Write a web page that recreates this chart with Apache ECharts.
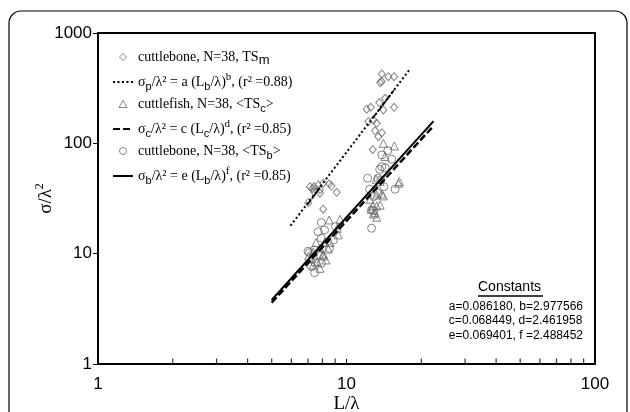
<!DOCTYPE html>
<html>
<head>
<meta charset="utf-8">
<script src="https://cdn.jsdelivr.net/npm/echarts@6/dist/echarts.min.js"></script>
<style>
  html, body { margin: 0; padding: 0; background: #fff; }
  #chart { width: 630px; height: 412px; }
</style>
</head>
<body>
<div id="chart"></div>
<script>
// cuttlebone TSm (diamonds)
const tsmPoints = [
  [13.87, 426], [14.74, 402], [15.54, 402], [13.65, 355], [13.87, 363],
  [14.30, 256], [13.56, 234], [15.54, 212], [12.52, 212], [12.06, 204],
  [14.07, 201], [12.82, 163], [12.24, 157], [13.23, 152], [13.02, 130],
  [13.87, 125], [13.43, 115], [12.75, 88],
  [7.13, 40.5], [7.30, 39], [7.40, 40.5], [7.70, 42], [7.82, 38],
  [8.06, 43.5], [8.52, 43], [8.71, 41], [9.13, 36], [7.40, 36.5],
  [7.82, 35.3], [8.06, 25.3], [7.02, 29]
];
// cuttlefish <TSc> (triangles)
const tscPoints = [
  [8.52, 20.2], [9.41, 20.5], [9.18, 17.0], [9.27, 14.8], [7.54, 12.6],
  [8.19, 12.8], [8.58, 12.6], [7.82, 11.2], [7.35, 10.4], [8.45, 11.0],
  [8.06, 9.53], [8.27, 8.77], [7.24, 9.08], [7.63, 8.46], [7.35, 7.9],
  [7.82, 7.37], [8.06, 9.9], [7.04, 9.5],
  [14.07, 100], [15.58, 94.7], [14.30, 76], [16.17, 43.5], [16.32, 45],
  [13.15, 47.3], [13.65, 45], [13.87, 34.8], [13.23, 34.1], [14.07, 33.4],
  [12.44, 31.1], [12.75, 27.1], [13.23, 27.1], [13.02, 23.5], [12.55, 25.3],
  [12.82, 22.9], [13.23, 21.4], [13.65, 27.6]
];
// cuttlebone <TSb> (circles)
const tsbPoints = [
  [13.87, 78.5], [14.66, 85.9], [15.21, 71.8], [13.87, 61.5], [13.36, 48.3],
  [12.16, 48.3], [13.76, 46.6], [12.39, 38.4], [14.12, 40.5], [12.86, 32.9],
  [13.36, 35.3], [12.62, 24.9], [12.86, 24.5], [15.69, 38.4], [12.62, 17.0],
  [14.30, 60], [13.60, 58],
  [7.92, 19.1], [8.16, 16.4], [7.69, 15.8], [9.03, 17.6], [7.92, 13.8],
  [8.86, 13.3], [8.53, 11.2], [7.09, 10.2], [7.41, 10.8], [7.78, 9.73],
  [7.49, 8.18], [7.92, 8.18], [7.44, 6.72], [7.22, 7.62], [7.00, 10.5]
];
// fitted power laws, end points
const fitP = [[5.95, 17.9], [18.0, 471]];
const fitPDense = [[[6.95, 27.7], [7.9, 40.6]], [[12.8, 171], [15.5, 302]]];
const fitC = [[5.0, 3.6], [22.4, 144]];
const fitB = [[5.0, 3.8], [22.4, 159]];

const xMinorTicks = [2, 3, 4, 5, 6, 7, 8, 9, 20, 30, 40, 50, 60, 70, 80, 90];
const constantsLines = [
  'a=0.086180, b=2.977566',
  'c=0.068449, d=2.461958',
  'e=0.069401, f =2.488452'
];

const legendLabels = {
  'TSm': '{t|cuttlebone, N=38, TS}{m|m}',
  'fitP': '{t|σ}{sub|p}{t|/λ² = a (L}{sub|b}{t|/λ)}{sup|b}{t|, (r² =0.88)}',
  'TSc': '{t|cuttlefish, N=38, <TS}{sub|c}{t|>}',
  'fitC': '{t|σ}{sub|c}{t|/λ² = c (L}{sub|c}{t|/λ)}{sup|d}{t|, (r² =0.85)}',
  'TSb': '{t|cuttlebone, N=38, <TS}{sub|b}{t|>}',
  'fitB': '{t|σ}{sub|b}{t|/λ² = e (L}{sub|b}{t|/λ)}{sup|f}{t|, (r² =0.85)}'
};

const serif = '"Liberation Serif", "Times New Roman", serif';
const sans = '"Liberation Sans", Arial, sans-serif';
const markerColor = '#666';

const hollowIcon = { color: '#fff', borderColor: markerColor, borderWidth: 1 };
const noSymbol = { color: 'rgba(0,0,0,0)', borderColor: 'rgba(0,0,0,0)', borderWidth: 0, opacity: 0 };

let chart = echarts.init(document.getElementById('chart'));

let option = {
  backgroundColor: '#fff',
  animation: false,
  grid: {
    left: 98, right: 35, top: 33, bottom: 48,
    outerBoundsMode: 'none',
    containLabel: false,
    show: true, borderColor: '#000', borderWidth: 2
  },
  legend: {
    orient: 'vertical',
    left: 107,
    top: 45,
    itemWidth: 20,
    itemHeight: 7,
    itemGap: 5,
    symbolKeepAspect: true,
    selectedMode: false,
    data: [
      { name: 'TSm', icon: 'path://M4,0L8,4L4,8L0,4Z', itemStyle: hollowIcon },
      { name: 'fitP', itemStyle: noSymbol },
      { name: 'TSc', icon: 'path://M4,0L8,7L0,7Z', itemStyle: hollowIcon },
      { name: 'fitC', itemStyle: noSymbol },
      { name: 'TSb', icon: 'path://M0,4A4,4,0,1,1,8,4A4,4,0,1,1,0,4Z', itemStyle: hollowIcon },
      { name: 'fitB', itemStyle: noSymbol }
    ],
    formatter: function (name) { return legendLabels[name]; },
    textStyle: {
      color: '#000',
      rich: {
        t: { fontFamily: serif, fontSize: 14, lineHeight: 20, color: '#000' },
        m: { fontFamily: sans, fontSize: 13, lineHeight: 18, verticalAlign: 'bottom', color: '#000' },
        sub: { fontFamily: sans, fontSize: 11, lineHeight: 15, verticalAlign: 'bottom', color: '#000' },
        sup: { fontFamily: serif, fontSize: 11, lineHeight: 11, verticalAlign: 'top', color: '#000' }
      }
    }
  },
  xAxis: {
    type: 'log',
    logBase: 10,
    min: 1,
    max: 100,
    name: 'L/λ',
    nameLocation: 'middle',
    nameGap: 31,
    nameMoveOverlap: false,
    nameTextStyle: { fontFamily: serif, fontSize: 19, color: '#000' },
    axisLine: { lineStyle: { color: '#000', width: 2 } },
    axisTick: { inside: true, length: 5, lineStyle: { color: '#000' } },
    axisLabel: {
      fontFamily: sans, fontSize: 17, color: '#000', margin: 12,
      formatter: function (v) { return String(v); }
    },
    splitLine: { show: false }
  },
  yAxis: {
    type: 'log',
    logBase: 10,
    min: 1,
    max: 1000,
    name: '{a|σ/λ}{b|2}',
    nameLocation: 'middle',
    nameGap: 40,
    nameRotate: 90,
    nameMoveOverlap: false,
    nameTextStyle: {
      rich: {
        a: { fontFamily: serif, fontSize: 19, lineHeight: 24, color: '#000' },
        b: { fontFamily: serif, fontSize: 12, lineHeight: 12, verticalAlign: 'top', color: '#000' }
      }
    },
    axisLine: { lineStyle: { color: '#000', width: 2 } },
    axisTick: { inside: false, length: 5, lineStyle: { color: '#000' } },
    axisLabel: {
      fontFamily: sans, fontSize: 17, color: '#000', margin: 6,
      formatter: function (v) { return String(v); }
    },
    splitLine: { show: false }
  },
  graphic: [
    {
      type: 'rect',
      silent: true,
      shape: { x: 9, y: 11, width: 618, height: 430, r: 12 },
      style: { fill: 'none', stroke: '#000', lineWidth: 1.2 }
    },
    {
      type: 'text',
      silent: true,
      left: 478, top: 280,
      style: { text: 'Constants', font: '14px ' + sans, fill: '#000' }
    },
    {
      type: 'line',
      silent: true,
      shape: { x1: 478, y1: 296, x2: 543, y2: 296 },
      style: { stroke: '#000', lineWidth: 1.5 }
    },
    {
      type: 'text',
      silent: true,
      right: 47, top: 299,
      style: {
        text: constantsLines.join('\n'),
        font: '12px ' + sans,
        lineHeight: 14.5,
        fill: '#000',
        align: 'center'
      }
    }
  ],
  series: [
    {
      name: 'minorTicks',
      type: 'scatter',
      silent: true,
      clip: false,
      symbol: 'rect',
      symbolSize: [1.2, 5],
      symbolOffset: [0, -3],
      itemStyle: { color: '#000' },
      data: xMinorTicks.map(v => [v, 1]),
      z: 1
    },
    {
      name: 'fitP',
      type: 'line',
      symbol: 'none',
      lineStyle: { color: '#000', width: 2, type: [2, 2.5] },
      data: fitP,
      z: 3
    },
    {
      name: 'fitPDense1',
      type: 'line',
      symbol: 'none',
      lineStyle: { color: '#000', width: 1.6, type: [6, 1.5] },
      data: fitPDense[0],
      z: 3
    },
    {
      name: 'fitPDense2',
      type: 'line',
      symbol: 'none',
      lineStyle: { color: '#000', width: 1.6, type: [6, 1.5] },
      data: fitPDense[1],
      z: 3
    },
    {
      name: 'fitC',
      type: 'line',
      symbol: 'none',
      lineStyle: { color: '#000', width: 2.5, type: [7, 3] },
      data: fitC,
      z: 3
    },
    {
      name: 'fitB',
      type: 'line',
      symbol: 'none',
      lineStyle: { color: '#000', width: 2 },
      data: fitB,
      z: 3
    },
    {
      name: 'TSm',
      type: 'scatter',
      symbol: 'diamond',
      symbolSize: [7, 8],
      itemStyle: { color: 'rgba(255,255,255,0)', borderColor: markerColor, borderWidth: 1 },
      data: tsmPoints,
      z: 2
    },
    {
      name: 'TSc',
      type: 'scatter',
      symbol: 'triangle',
      symbolSize: 8,
      itemStyle: { color: 'rgba(255,255,255,0)', borderColor: markerColor, borderWidth: 1 },
      data: tscPoints,
      z: 2
    },
    {
      name: 'TSb',
      type: 'scatter',
      symbol: 'circle',
      symbolSize: 8,
      itemStyle: { color: 'rgba(255,255,255,0)', borderColor: markerColor, borderWidth: 1 },
      data: tsbPoints,
      z: 2
    }
  ]
};

option && chart.setOption(option);
</script>
</body>
</html>
